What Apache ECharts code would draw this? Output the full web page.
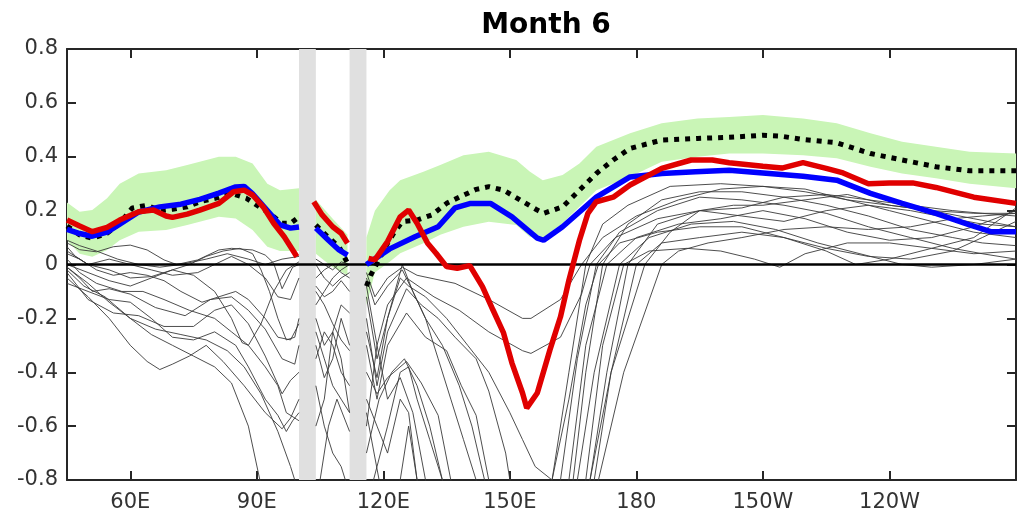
<!DOCTYPE html>
<html><head><meta charset="utf-8">
<script src="https://cdn.jsdelivr.net/npm/echarts@6/dist/echarts.min.js"></script>
<style>html,body{margin:0;padding:0;background:#fff}#c{width:1023px;height:514px}</style>
</head><body><div id="c"></div>
<script>
// ---------- data (longitude in degrees east, value) ----------
const xTicks = [60, 90, 120, 150, 180, 210, 240];
const landBands = [[100, 104], [112, 116]];

const bandLon   = [45,48,51,54.5,57.5,62,68.5,73.5,81,85,89,92.5,95.5,100,null,104,108,111.5,null,116,118,121.5,124,129.5,133.5,139,145,151.5,154.7,157.8,162.5,166.5,170.5,178.5,186,194.5,202,210,219.5,227.5,235.5,243,251,259,270];
const bandUpper = [0.23,0.196,0.202,0.246,0.30,0.338,0.35,0.369,0.40,0.40,0.375,0.30,0.276,0.283,null,0.24,0.17,0.11,null,0.10,0.2,0.276,0.313,0.344,0.369,0.406,0.419,0.388,0.345,0.313,0.332,0.375,0.437,0.487,0.524,0.542,0.548,0.555,0.542,0.524,0.487,0.456,0.437,0.419,0.412];
const bandLower = [0.09,0.04,0.029,0.054,0.09,0.122,0.128,0.147,0.177,0.171,0.128,0.066,0.05,0.05,null,0.04,-0.01,-0.04,null,-0.15,-0.03,0.01,0.042,0.079,0.11,0.14,0.159,0.147,0.103,0.097,0.153,0.214,0.276,0.326,0.381,0.40,0.412,0.412,0.406,0.394,0.363,0.338,0.32,0.30,0.283];

const dottedLine = [[45,0.143],[48,0.11],[51,0.097],[54.5,0.116],[57.5,0.153],[60.5,0.21],[64,0.22],[67,0.2],[70,0.205],[73.5,0.214],[76.5,0.233],[81,0.249],[84,0.264],[87.5,0.246],[90,0.22],[92.5,0.196],[96,0.153],[98,0.153],[99.5,0.171],null,
  [104,0.147],[107,0.1],[109.5,0.066],[111.5,0.005],null,
  [116,-0.08],[117,-0.04],[121,0.079],[122.5,0.117],[124.5,0.159],[128,0.165],[131.5,0.184],[135,0.227],[138,0.25],[142,0.279],[145,0.289],[148.5,0.276],[152.5,0.239],[156.5,0.202],[158,0.19],[162.5,0.214],[166.5,0.276],[170.5,0.338],[174.5,0.388],[178.5,0.431],[186,0.462],[194.5,0.468],[202,0.472],[210,0.48],[214,0.477],[219.5,0.464],[227.5,0.452],[235.5,0.412],[243,0.388],[251,0.363],[259,0.348],[270,0.348]];

const blueLine = [[45,0.13],[48,0.115],[51,0.105],[54.5,0.12],[57.5,0.15],[62,0.195],[67,0.214],[72,0.224],[76.5,0.242],[81,0.265],[85,0.288],[87,0.29],[89,0.262],[92.5,0.2],[95.5,0.147],[98,0.135],[100,0.139],null,
  [104,0.135],[107,0.09],[109.5,0.054],[111.5,0.035],null,
  [116,0.0],[121.5,0.058],[127.5,0.103],[133,0.14],[137,0.21],[140.5,0.226],[145.5,0.226],[150.5,0.177],[156.5,0.098],[158,0.09],[162.5,0.14],[170.5,0.25],[178.5,0.325],[186,0.338],[194,0.344],[202,0.35],[210,0.34],[219.5,0.328],[227.5,0.313],[235.5,0.264],[243,0.227],[251,0.19],[259,0.147],[264,0.122],[270,0.122]];

const redLine = [[45,0.165],[48,0.143],[51,0.122],[54.5,0.138],[57.5,0.165],[62,0.196],[65.5,0.202],[68.5,0.18],[70,0.175],[73.5,0.187],[76.5,0.202],[81,0.227],[84.5,0.27],[87,0.276],[89,0.258],[91.5,0.214],[94,0.153],[96.5,0.103],[98.5,0.054],[99.5,0.029],null,
  [103.5,0.233],[105.5,0.184],[108,0.14],[110,0.116],[111.5,0.079],null,
  [116.5,0.023],[118,0.017],[121,0.085],[124,0.177],[126,0.202],[128,0.153],[130.5,0.079],[132.5,0.042],[135,-0.008],[137.5,-0.014],[140.5,-0.004],[143.5,-0.082],[146,-0.169],[148.5,-0.254],[150.5,-0.366],[153,-0.477],[154,-0.533],[156.5,-0.477],[159.5,-0.317],[162,-0.194],[164,-0.058],[166.5,0.09],[168.5,0.19],[170.5,0.233],[174.5,0.25],[178.5,0.295],[186,0.357],[193,0.388],[198,0.388],[202,0.378],[210,0.365],[214.5,0.358],[219.5,0.378],[225,0.357],[229,0.34],[235,0.30],[240,0.303],[245.5,0.303],[251,0.286],[260,0.25],[270,0.227]];

const member1 = [[45,0.08],[48,0.055],[52,0.047],[56,0.066],[60,0.072],[64,0.054],[68,0.017],[71,0.0],[76,0.017],[81,0.054],[84,0.06],[89,0.054],[92,0.035],[94,0.005],[96,-0.09],[98.5,-0.01],[100,0.0],null,
  [104,0.02],[106,0.0],[108,-0.02],[110,0.01],[112,0.0],null,
  [116,-0.03],[118,-0.12],[121,-0.05],[124.5,-0.01],[128,-0.04],[137,-0.07],[145,-0.13],[153,-0.2],[155,-0.2],[162,-0.13],[167,0.0],[172,0.1],[180,0.18],[190,0.24],[200,0.28],[210,0.29],[220,0.28],[230,0.24],[240,0.2],[250,0.16],[260,0.12],[270,0.1]];
const member2 = [[45,0.066],[47,0.03],[50,0.0],[55,-0.02],[60,-0.05],[65,-0.045],[70,-0.02],[74,0.0],[78,0.03],[82,0.05],[86,0.06],[89,0.04],[91,-0.02],[93,-0.1],[95,-0.2],[97,-0.28],[99,-0.27],[100,-0.2],null,
  [104,-0.05],[106,-0.02],[108,0.0],[110,-0.03],[112,-0.05],null,
  [116,-0.08],[118.5,-0.3],[121,-0.15],[125.5,-0.05],[132,-0.12],[138,-0.17],[145,-0.25],[153,-0.32],[155,-0.33],[162,-0.27],[167,-0.11],[169,0.0],[175,0.1],[185,0.17],[195,0.2],[205,0.18],[215,0.16],[225,0.2],[235,0.22],[245,0.2],[255,0.17],[262,0.15],[270,0.14]];
const member3 = [[45,0.0],[50,-0.03],[55,-0.06],[60,-0.08],[65,-0.05],[70,-0.02],[75,-0.04],[80,-0.1],[84,-0.2],[86.5,-0.29],[88,-0.3],[91,-0.22],[94,-0.1],[97,-0.02],[100,0.01],null,
  [104,-0.1],[106,-0.15],[108,-0.22],[110,-0.28],[112,-0.32],null,
  [116,-0.2],[118.5,-0.45],[121,-0.25],[125.5,-0.09],[129,-0.15],[133,-0.2],[137,-0.27],[142,-0.35],[145,-0.47],[149,-0.7],[151,-0.9],[155,-1.2],[158,-1.0],[160,-0.8],[164,-0.4],[168,0.0],[172,0.15],[178,0.22],[188,0.29],[200,0.30],[210,0.29],[220,0.27],[230,0.24],[240,0.22],[250,0.2],[260,0.17],[270,0.14]];
const member4 = [[45,-0.01],[48,-0.05],[51,-0.1],[55,-0.09],[60,-0.11],[66,-0.16],[73,-0.19],[79,-0.13],[84,-0.12],[88,-0.17],[92,-0.24],[96,-0.35],[99,-0.37],[100,-0.3],null,
  [104,-0.2],[106,-0.3],[108,-0.25],[110,-0.15],[112,-0.18],null,
  [116,-0.3],[118.5,-0.5],[121,-0.3],[125.5,-0.18],[130,-0.27],[135,-0.32],[138.5,-0.45],[142,-0.56],[145,-0.8],[148,-1.1],[156,-1.3],[160,-1.0],[162,-0.8],[166,-0.35],[170.5,0.0],[176,0.12],[185,0.2],[195,0.25],[205,0.24],[215,0.22],[225,0.19],[235,0.14],[245,0.1],[255,0.06],[262,0.04],[270,0.02]];
const member5 = [[45,-0.03],[50,-0.13],[56,-0.18],[62,-0.19],[68,-0.23],[75,-0.23],[80,-0.17],[84,-0.15],[88,-0.22],[92,-0.34],[96,-0.48],[98,-0.43],[100,-0.4],null,
  [104,-0.35],[106,-0.25],[108,-0.3],[110,-0.4],[112,-0.45],null,
  [116,-0.4],[118.5,-0.48],[121,-0.42],[125.5,-0.36],[129,-0.44],[133,-0.56],[136,-0.8],[139,-1.1],[155,-1.4],[161,-1.1],[164,-0.8],[168,-0.3],[173,0.0],[180,0.1],[190,0.15],[200,0.17],[210,0.2],[220,0.17],[230,0.12],[240,0.09],[250,0.1],[260,0.14],[270,0.2]];
const member6 = [[45,-0.05],[50,-0.12],[55,-0.2],[60,-0.3],[64,-0.36],[67,-0.39],[70,-0.37],[74,-0.34],[78,-0.3],[82,-0.36],[87,-0.45],[92,-0.55],[96,-0.61],[98,-0.57],[100,-0.5],null,
  [104,-0.3],[106,-0.42],[108,-0.35],[110,-0.2],[112,-0.3],null,
  [116,-0.55],[119,-0.8],[121,-1.0],[124,-0.8],[126,-0.6],[128,-0.8],[131,-1.1],[158,-1.4],[163,-1.0],[166,-0.8],[170,-0.4],[176,0.0],[183,0.1],[193,0.15],[203,0.16],[213,0.13],[223,0.08],[233,0.04],[243,0.0],[250,-0.01],[260,0.0],[270,0.02]];
const member7 = [[45,-0.01],[50,-0.07],[55,-0.14],[60,-0.2],[65,-0.26],[70,-0.3],[75,-0.34],[80,-0.38],[84,-0.44],[88,-0.6],[91,-0.82],[94,-1.1],[100,-1.2],null,
  [104,-0.9],[107,-0.6],[109,-0.5],[112,-0.62],null,
  [116,-0.7],[119,-0.5],[122,-0.4],[125,-0.35],[128,-0.45],[131,-0.6],[134,-0.8],[137,-1.1],[160,-1.3],[165,-1.0],[169,-0.8],[174,-0.4],[182,0.0],[188,0.12],[195,0.2],[203,0.22],[210,0.22],[220,0.24],[230,0.26],[240,0.22],[250,0.2],[260,0.19],[270,0.19]];
const member8 = [[45,-0.07],[50,-0.1],[55,-0.13],[60,-0.14],[65,-0.2],[70,-0.27],[75,-0.28],[80,-0.25],[85,-0.3],[88,-0.38],[92,-0.5],[95,-0.56],[97,-0.62],[98.5,-0.58],[100,-0.55],null,
  [104,-0.6],[106,-0.5],[108,-0.25],[110,-0.35],[112,-0.55],null,
  [116,-0.6],[118.5,-0.3],[121,-0.5],[124,-0.42],[127,-0.55],[130,-0.8],[133,-1.1],[160,-1.3],[167,-1.0],[170,-0.8],[174,-0.4],[180,0.0],[186,0.08],[195,0.1],[205,0.12],[215,0.1],[225,0.06],[235,0.03],[245,0.02],[255,0.05],[262,0.1],[270,0.16]];
const member9 = [[45,0.02],[48,-0.03],[52,-0.07],[58,-0.1],[63,-0.1],[68,-0.13],[74,-0.17],[80,-0.2],[84,-0.25],[88,-0.3],[92,-0.38],[95,-0.45],[97,-0.55],[100,-0.58],null,
  [104,-0.15],[106,-0.1],[108,-0.05],[110,-0.02],[112,0.0],null,
  [116,-0.05],[118,-0.15],[121,-0.08],[124.5,-0.02],[127,-0.1],[130,-0.2],[134,-0.3],[138,-0.45],[141,-0.6],[144,-0.8],[147,-1.1],[160,-1.3],[165,-1.0],[168,-0.8],[172,-0.3],[177,0.0],[183,0.05],[192,0.06],[200,0.05],[208,0.02],[214,-0.01],[220,0.04],[230,0.08],[240,0.08],[250,0.06],[260,0.04],[270,0.05]];
const member10 = [[45,-0.02],[49,-0.08],[54,-0.12],[60,-0.2],[66,-0.24],[72,-0.26],[78,-0.28],[83,-0.32],[87,-0.38],[91,-0.48],[95,-0.62],[98,-0.75],[100,-0.85],null,
  [104,-0.45],[106,-0.6],[108,-0.7],[110,-0.75],[112,-0.85],null,
  [116,-0.9],[118.5,-0.75],[121,-0.6],[124,-0.4],[126,-0.38],[128,-0.5],[131,-0.65],[134,-0.8],[137,-1.1],[162,-1.3],[168,-1.0],[171,-0.8],[177,-0.4],[186,0.0],[190,0.05],[197,0.08],[205,0.1],[215,0.13],[225,0.14],[235,0.13],[245,0.14],[255,0.17],[262,0.18],[270,0.19]];
const member11 = [[45,0.04],[48,0.02],[52,-0.02],[56,-0.04],[60,-0.03],[64,-0.04],[68,-0.06],[72,-0.1],[77,-0.14],[81,-0.12],[85,-0.1],[88,-0.13],[92,-0.2],[95,-0.27],[98,-0.28],[100,-0.22],null,
  [104,-0.25],[106,-0.35],[108,-0.45],[110,-0.5],[112,-0.55],null,
  [116,-0.5],[118.5,-0.6],[121,-0.7],[124,-0.5],[126,-0.55],[128,-0.8],[130,-1.1],[161,-1.3],[166,-1.0],[169,-0.8],[173,-0.4],[178,0.0],[185,0.15],[195,0.2],[205,0.21],[215,0.25],[225,0.26],[235,0.24],[245,0.22],[255,0.2],[262,0.19],[270,0.18]];
const member12 = [[45,0.05],[50,0.0],[55,0.02],[60,0.0],[65,-0.02],[70,-0.04],[76,-0.03],[80,0.0],[84,0.03],[88,0.0],[92,-0.05],[95,-0.12],[98,-0.13],[100,-0.05],null,
  [104,-0.08],[106,-0.12],[108,-0.1],[110,-0.06],[112,-0.1],null,
  [116,-0.25],[118.5,-0.42],[121,-0.2],[124,-0.05],[126,-0.08],[130,-0.12],[135,-0.2],[140,-0.3],[145,-0.4],[150,-0.55],[153,-0.65],[156,-0.75],[160,-0.8],[164,-0.5],[168,-0.15],[171,0.0],[176,0.08],[185,0.12],[195,0.14],[205,0.14],[215,0.1],[225,0.05],[232,0.0],[240,0.02],[250,0.06],[260,0.1],[270,0.21]];
const member13 = [[45,0.09],[48,0.07],[52,0.05],[57,0.02],[62,0.0],[67,-0.01],[72,0.0],[78,0.02],[83,0.04],[88,0.02],[92,0.0],[96,0.02],[100,0.03],null,
  [104,0.0],[106,-0.05],[108,-0.08],[110,-0.05],[112,-0.03],null,
  [116,-0.12],[118.5,-0.35],[121,-0.2],[124.5,0.0],[127,-0.1],[130,-0.2],[133,-0.35],[136,-0.5],[139,-0.65],[142,-0.8],[145,-1.1],[158,-1.3],[163,-1.0],[165,-0.8],[168,-0.4],[172,0.0],[178,0.15],[186,0.24],[195,0.27],[205,0.27],[215,0.25],[225,0.22],[235,0.18],[245,0.13],[255,0.1],[262,0.08],[270,0.07]];
const members = [member1, member2, member3, member4, member5, member6, member7, member8, member9, member10, member11, member12, member13];

// ---------- chart ----------
const FONT = 'DejaVu Sans';
const gap = d => d.map(p => p === null ? ['-', '-'] : p);
const fmtLon = v => v < 180 ? v + 'E' : (v === 180 ? '180' : (360 - v) + 'W');
const fmtY = v => String(Math.round(v * 10) / 10);
const frame = { color: '#262626', width: 2 };

// split the band arrays into segments (broken at null)
const bandSegs = [];
let cur = [];
bandLon.forEach((x, i) => {
  if (x === null) { if (cur.length) bandSegs.push(cur); cur = []; }
  else cur.push([x, bandUpper[i], bandLower[i]]);
});
if (cur.length) bandSegs.push(cur);

function xAx(pos, labels) {
  return {
    type: 'value', min: 45, max: 270, position: pos,
    axisLine: { show: true, onZero: false, lineStyle: frame },
    axisTick: { show: true, inside: true, length: 9, customValues: xTicks, lineStyle: frame },
    axisLabel: { show: labels, customValues: xTicks, formatter: fmtLon, fontFamily: FONT, fontSize: 21, color: '#333', margin: 12 },
    splitLine: { show: false }
  };
}
function yAx(pos, labels) {
  return {
    type: 'value', min: -0.8, max: 0.8, interval: 0.2, position: pos,
    axisLine: { show: true, onZero: false, lineStyle: frame },
    axisTick: { show: true, inside: true, length: 9, lineStyle: frame },
    axisLabel: { show: labels, formatter: fmtY, fontFamily: FONT, fontSize: 21, color: '#333', margin: 9 },
    splitLine: { show: false }
  };
}

const series = [];
series.push({
  type: 'custom', coordinateSystem: 'cartesian2d', silent: true, z: 1, clip: true,
  data: bandSegs.map((s, i) => [s[0][0], s[0][1], i]),
  encode: { x: 0, y: 1 },
  renderItem: (params, api) => {
    const seg = bandSegs[api.value(2)];
    const pts = seg.map(p => api.coord([p[0], p[1]]))
      .concat(seg.slice().reverse().map(p => api.coord([p[0], p[2]])));
    return { type: 'polygon', shape: { points: pts }, style: { fill: '#c9f5b6' } };
  }
});
members.forEach(m => series.push({ type: 'line', data: gap(m), symbol: 'none', silent: true,
  lineStyle: { color: '#3a3a3a', width: 0.9 }, z: 2 }));
series.push({ type: 'line', data: [], silent: true, z: 3,
  markLine: { silent: true, symbol: ['none', 'none'], label: { show: false },
    lineStyle: { color: '#000', width: 2.5, type: 'solid' }, data: [{ yAxis: 0 }] } });
series.push({ type: 'line', data: gap(dottedLine), symbol: 'none', silent: true,
  lineStyle: { color: '#000', width: 5, type: [5, 6], cap: 'butt' }, z: 4 });
series.push({ type: 'line', data: gap(blueLine), symbol: 'none', silent: true,
  lineStyle: { color: '#0000ff', width: 5.5 }, z: 5 });
series.push({ type: 'line', data: gap(redLine), symbol: 'none', silent: true,
  lineStyle: { color: '#e00000', width: 5.5 }, z: 6 });
series.push({ type: 'line', data: [], silent: true, z: 8,
  markArea: { silent: true, itemStyle: { color: '#e0e0e0', opacity: 1 },
    data: landBands.map(b => [{ xAxis: b[0] }, { xAxis: b[1] }]) } });

const chart = echarts.init(document.getElementById('c'), null, { renderer: 'canvas' });
chart.setOption({
  animation: false,
  backgroundColor: '#fff',
  title: { text: 'Month 6', left: 541, textAlign: 'center', top: 7,
    textStyle: { fontFamily: FONT, fontWeight: 'bold', fontSize: 28, color: '#000' } },
  grid: { left: 67, right: 7, top: 49, bottom: 34 },
  xAxis: [xAx('bottom', true), xAx('top', false)],
  yAxis: [yAx('left', true), yAx('right', false)],
  series: series
});
</script></body></html>
